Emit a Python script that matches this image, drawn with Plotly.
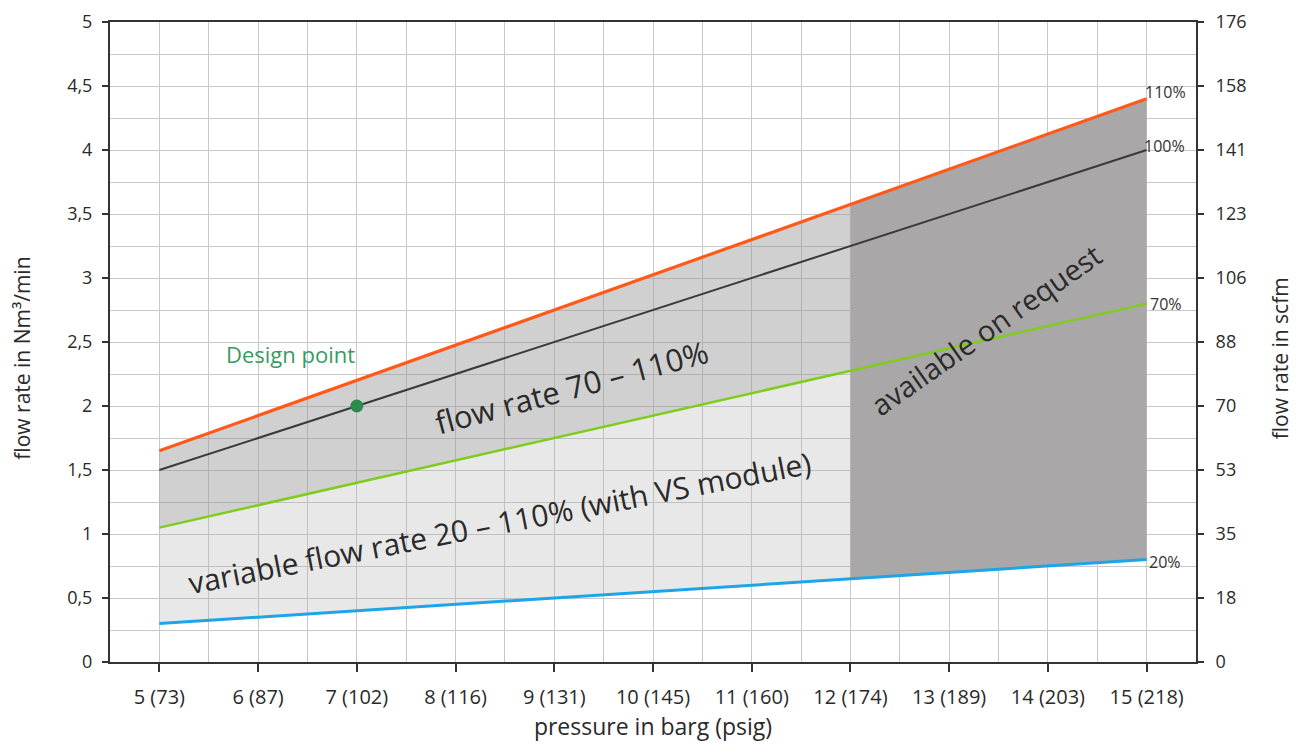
import plotly.graph_objects as go

# ---- data ----
pressure = [5, 6, 7, 8, 9, 10, 11, 12, 13, 14, 15]
x_labels = ["5 (73)", "6 (87)", "7 (102)", "8 (116)", "9 (131)", "10 (145)",
            "11 (160)", "12 (174)", "13 (189)", "14 (203)", "15 (218)"]
flow_110 = [1.65, 1.925, 2.2, 2.475, 2.75, 3.025, 3.3, 3.575, 3.85, 4.125, 4.4]
flow_100 = [1.5, 1.75, 2.0, 2.25, 2.5, 2.75, 3.0, 3.25, 3.5, 3.75, 4.0]
flow_70 = [1.05, 1.225, 1.4, 1.575, 1.75, 1.925, 2.1, 2.275, 2.45, 2.625, 2.8]
flow_20 = [0.3, 0.35, 0.4, 0.45, 0.5, 0.55, 0.6, 0.65, 0.7, 0.75, 0.8]
design_x = [7]
design_y = [2.0]
y_ticks = [0, 0.5, 1, 1.5, 2, 2.5, 3, 3.5, 4, 4.5, 5]
y_left_labels = ["0", "0,5", "1", "1,5", "2", "2,5", "3", "3,5", "4", "4,5", "5"]
y_right_labels = ["0", "18", "35", "53", "70", "88", "106", "123", "141", "158", "176"]
split_index = 7  # pressure 12 barg: standard range ends, "available on request" begins

FONT = "Open Sans"
TXT = "#2a2a2a"

fig = go.Figure()

std_x = pressure[:split_index + 1]
req_x = pressure[split_index:]

# light region: 20% -> 70% (standard range)
fig.add_trace(go.Scatter(
    x=std_x + std_x[::-1],
    y=flow_70[:split_index + 1] + flow_20[:split_index + 1][::-1],
    fill="toself", fillcolor="rgba(170,170,170,0.27)", mode="none",
    hoverinfo="skip", showlegend=False))
# medium region: 70% -> 110% (standard range)
fig.add_trace(go.Scatter(
    x=std_x + std_x[::-1],
    y=flow_110[:split_index + 1] + flow_70[:split_index + 1][::-1],
    fill="toself", fillcolor="rgba(150,150,150,0.45)", mode="none",
    hoverinfo="skip", showlegend=False))
# dark region: available on request
fig.add_trace(go.Scatter(
    x=req_x + req_x[::-1],
    y=flow_110[split_index:] + flow_20[split_index:][::-1],
    fill="toself", fillcolor="rgb(169,167,167)", mode="none",
    hoverinfo="skip", showlegend=False))

# lines
fig.add_trace(go.Scatter(x=pressure, y=flow_20, mode="lines",
                         line=dict(color="#1ea5e8", width=3), showlegend=False))
fig.add_trace(go.Scatter(x=pressure, y=flow_70, mode="lines",
                         line=dict(color="#7fcc1c", width=2.5), showlegend=False))
fig.add_trace(go.Scatter(x=pressure, y=flow_100, mode="lines",
                         line=dict(color="#3a3a3a", width=2), showlegend=False))
fig.add_trace(go.Scatter(x=pressure, y=flow_110, mode="lines",
                         line=dict(color="#ff5a1a", width=3.2), showlegend=False))

# design point
fig.add_trace(go.Scatter(x=design_x, y=design_y, mode="markers",
                         marker=dict(color="#2b8a4e", size=13), showlegend=False))

# dummy trace for right axis
fig.add_trace(go.Scatter(x=pressure, y=flow_20, yaxis="y2", mode="lines",
                         line=dict(width=0, color="rgba(0,0,0,0)"),
                         hoverinfo="skip", showlegend=False))

# percent labels at line ends
for vals, txt, xs, ys in [(flow_110, "110%", -4, 7), (flow_100, "100%", -5, 4),
                          (flow_70, "70%", 1, 0), (flow_20, "20%", 0, -2)]:
    fig.add_annotation(x=pressure[-1], y=vals[-1], text=txt, showarrow=False,
                       xanchor="left", yanchor="middle", xshift=xs, yshift=ys,
                       font=dict(family=FONT, size=16, color="#333333"))

fig.add_annotation(x=6.33, y=2.41, text="Design point", showarrow=False,
                   font=dict(family=FONT, size=22, color="#3a9a62"))
fig.add_annotation(x=9.17, y=2.15, text="flow rate 70 – 110%", showarrow=False,
                   textangle=-15, font=dict(family=FONT, size=31, color=TXT))
fig.add_annotation(x=8.45, y=1.09, text="variable flow rate 20 – 110% (with VS module)",
                   showarrow=False, textangle=-11,
                   font=dict(family=FONT, size=30, color=TXT))
fig.add_annotation(x=13.37, y=2.6, text="available on request", showarrow=False,
                   textangle=-35, font=dict(family=FONT, size=29, color=TXT))

# y-axis titles (placed slightly below the plot's middle, as in the reference)
fig.add_annotation(xref="paper", yref="paper", x=-0.081, y=0.474,
                   xanchor="center", yanchor="middle",
                   text="flow rate in Nm³/min", textangle=-90, showarrow=False,
                   font=dict(family=FONT, size=21, color=TXT))
fig.add_annotation(xref="paper", yref="paper", x=1.077, y=0.474,
                   xanchor="center", yanchor="middle",
                   text="flow rate in scfm", textangle=-90, showarrow=False,
                   font=dict(family=FONT, size=21, color=TXT))

GRID = "#c9c9c9"
AX = "#333333"
fig.update_layout(
    width=1301, height=753,
    margin=dict(l=102, r=113, t=14, b=99),
    paper_bgcolor="white", plot_bgcolor="white",
    font=dict(family=FONT, size=20, color=TXT),
    xaxis=dict(
        range=[4.5, 15.5], tickmode="array", tickvals=pressure, ticktext=x_labels,
        showgrid=True, gridcolor=GRID, gridwidth=1,
        minor=dict(dtick=0.5, tick0=0, showgrid=True, gridcolor=GRID, gridwidth=1),
        showline=True, linecolor=AX, linewidth=2, mirror=True,
        ticks="outside", ticklen=8, tickwidth=2, tickcolor=AX,
        zeroline=False, ticklabelstandoff=8, automargin=False,
        ticklabeloverflow="allow",
        tickfont=dict(size=20),
        title=dict(text="pressure in barg (psig)", font=dict(size=23), standoff=8),
    ),
    yaxis=dict(
        range=[0, 5], tickmode="array", tickvals=y_ticks, ticktext=y_left_labels,
        showgrid=True, gridcolor=GRID, gridwidth=1,
        minor=dict(dtick=0.25, tick0=0, showgrid=True, gridcolor=GRID, gridwidth=1),
        showline=True, linecolor=AX, linewidth=2, mirror=True,
        ticks="outside", ticklen=6, tickwidth=1.5, tickcolor=AX,
        zeroline=False, automargin=False, ticklabelstandoff=6,
        ticklabeloverflow="allow",
        tickfont=dict(size=18),
    ),
    yaxis2=dict(
        overlaying="y", side="right", range=[0, 5],
        tickmode="array", tickvals=y_ticks, ticktext=y_right_labels,
        showgrid=False, showline=True, linecolor=AX, linewidth=2,
        ticks="outside", ticklen=6, tickwidth=1.5, tickcolor=AX, zeroline=False,
        automargin=False, ticklabelstandoff=8, tickfont=dict(size=18),
        ticklabeloverflow="allow",
    ),
)

fig.write_html("out.html")
